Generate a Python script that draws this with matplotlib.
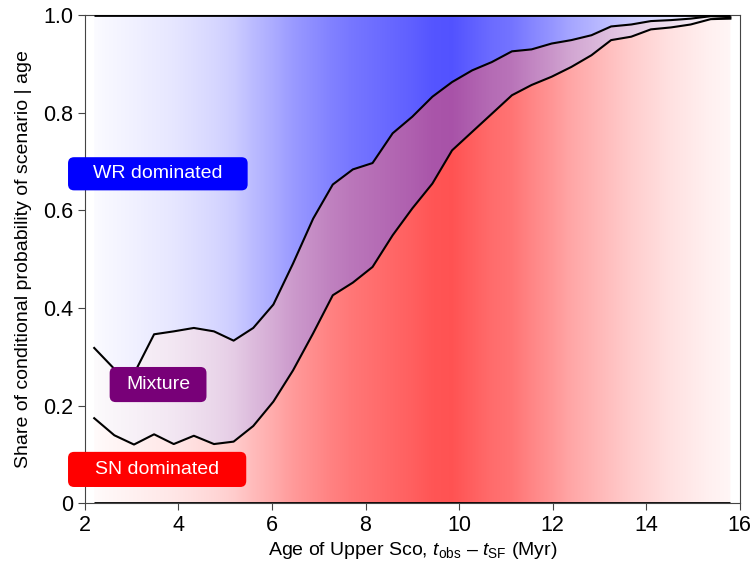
import matplotlib
matplotlib.use("Agg")
import matplotlib.pyplot as plt
import numpy as np
from matplotlib.patches import FancyBboxPatch

plt.rcParams['font.family'] = ['Liberation Sans', 'DejaVu Sans']
plt.rcParams['mathtext.fontset'] = 'custom'
plt.rcParams['mathtext.rm'] = 'Liberation Sans'
plt.rcParams['mathtext.it'] = 'Liberation Sans:italic'

# age grid of the model (Myr)
ages = [2.2, 2.63, 3.05, 3.48, 3.9, 4.33, 4.76, 5.18, 5.6, 6.03, 6.45,
        6.88, 7.3, 7.73, 8.15, 8.58, 9.0, 9.43, 9.85, 10.28, 10.7,
        11.13, 11.55, 11.98, 12.4, 12.83, 13.25, 13.68, 14.1, 14.53,
        14.95, 15.38, 15.8]
# cumulative share: SN dominated below sn_share, WR dominated above mix_share
sn_share = [0.174, 0.139, 0.120, 0.141, 0.121, 0.138, 0.121, 0.126, 0.158,
            0.208, 0.272, 0.348, 0.426, 0.452, 0.484, 0.549, 0.604, 0.655,
            0.723, 0.761, 0.798, 0.836, 0.857, 0.874, 0.894, 0.918, 0.949,
            0.956, 0.971, 0.975, 0.981, 0.992, 0.993]
mix_share = [0.318, 0.275, 0.265, 0.346, 0.352, 0.359, 0.352, 0.333, 0.359,
             0.407, 0.491, 0.583, 0.653, 0.684, 0.697, 0.758, 0.792, 0.833,
             0.863, 0.887, 0.904, 0.926, 0.930, 0.942, 0.949, 0.959, 0.977,
             0.981, 0.988, 0.990, 0.993, 0.998, 0.996]
# probability of the age itself, used as shading strength
age_weight = [0.02, 0.04, 0.06, 0.08, 0.10, 0.13, 0.16, 0.20, 0.27, 0.33,
              0.40, 0.45, 0.50, 0.54, 0.57, 0.60, 0.63, 0.67, 0.68, 0.63,
              0.58, 0.55, 0.48, 0.42, 0.35, 0.30, 0.25, 0.20, 0.16, 0.12,
              0.09, 0.06, 0.04]

ages = np.array(ages)
sn_share = np.array(sn_share)
mix_share = np.array(mix_share)
age_weight = np.array(age_weight)

fig = plt.figure(figsize=(7.51, 5.64), dpi=100)
ax = fig.add_axes([0.113, 0.108, 0.872, 0.865])

dx = ages[1] - ages[0]
extent = (ages[0] - dx / 2, ages[-1] + dx / 2, 0, 1)


def shade(lo, hi, rgb):
    coll = ax.fill_between(ages, lo, hi, facecolor='none', edgecolor='none')
    img = np.zeros((1, len(ages), 4))
    img[0, :, :3] = rgb
    img[0, :, 3] = age_weight
    im = ax.imshow(img, extent=extent, aspect='auto', origin='lower',
                   interpolation='bilinear', zorder=1)
    im.set_clip_path(coll.get_paths()[0], transform=ax.transData)


shade(np.zeros_like(sn_share), sn_share, (1, 0, 0))
shade(sn_share, mix_share, (0.5, 0, 0.5))
shade(mix_share, np.ones_like(mix_share), (0, 0, 1))

ax.plot(ages, sn_share, color='k', lw=1.5, zorder=3)
ax.plot(ages, mix_share, color='k', lw=1.5, zorder=3)
ax.hlines([0, 1], ages[0], ages[-1], color='k', lw=2, zorder=3)

# labels in rounded boxes
boxes = [('WR dominated', 1.64, 0.641, 5.48, 0.709, '#0000ff'),
         ('Mixture', 2.53, 0.207, 4.60, 0.279, '#780078'),
         ('SN dominated', 1.64, 0.033, 5.45, 0.105, '#ff0000')]
for txt, x0, y0, x1, y1, col in boxes:
    p = FancyBboxPatch((x0, y0), x1 - x0, y1 - y0,
                       boxstyle='round,pad=0,rounding_size=0.13',
                       mutation_aspect=0.096, fc=col, ec='none',
                       clip_on=False, zorder=5)
    ax.add_patch(p)
    ax.text((x0 + x1) / 2, (y0 + y1) / 2, txt, color='white', fontsize=14,
            ha='center', va='center', zorder=6)

ax.set_xlim(2, 16)
ax.set_ylim(0, 1)
ax.set_xticks(range(2, 17, 2))
ax.set_yticks([0, 0.2, 0.4, 0.6, 0.8, 1.0])
ax.set_yticklabels(['0', '0.2', '0.4', '0.6', '0.8', '1.0'])
ax.tick_params(direction='out', length=5, width=0.8, color='#444444',
               labelsize=15.5)
for s in ax.spines.values():
    s.set_linewidth(0.8)
    s.set_color('#444444')

ax.set_xlabel(r'Age of Upper Sco, $t_{\mathrm{obs}}$ – $t_{\mathrm{SF}}$ (Myr)',
              fontsize=14, labelpad=3)
ax.set_ylabel('Share of conditional probability of scenario | age',
              fontsize=14, labelpad=8)

fig.savefig('out.png', dpi=100)
